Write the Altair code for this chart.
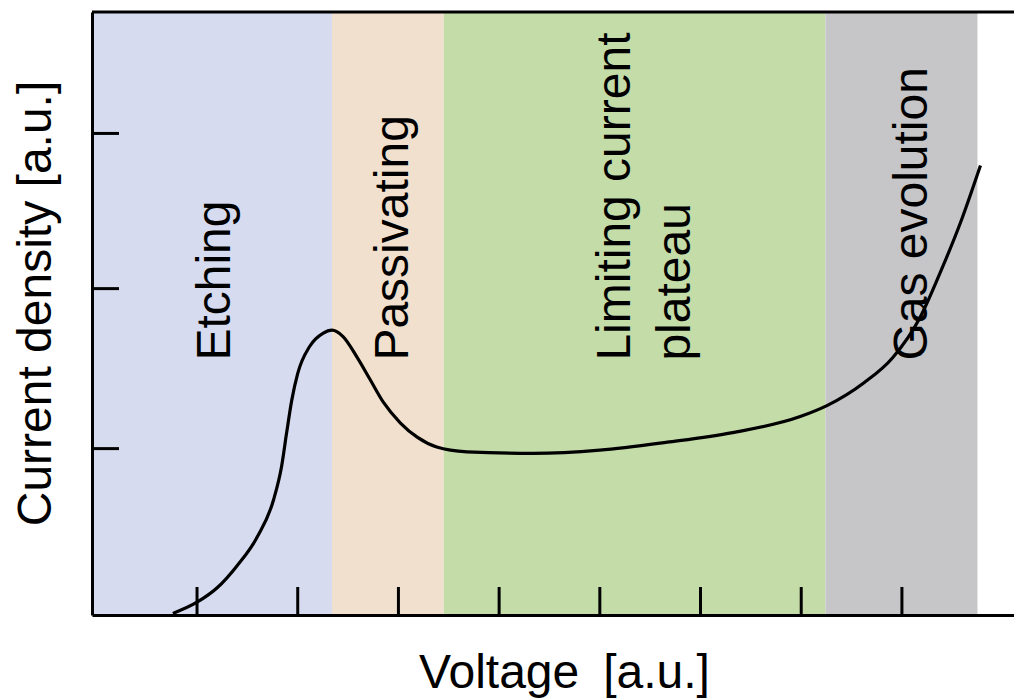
import altair as alt
import pandas as pd

# ---- data (arbitrary units) ----
voltage = [0.76, 1.00, 1.20, 1.40, 1.60, 1.76, 1.84, 1.89, 1.94, 2.00, 2.12, 2.25, 2.34,
           2.45, 2.59, 2.72, 2.85, 3.02, 3.19, 3.38, 3.68, 4.34, 5.00, 5.67, 6.32, 6.99,
           7.26, 7.62, 7.91, 8.18, 8.38, 8.58, 8.78]
current = [0.01, 0.08, 0.17, 0.31, 0.49, 0.72, 0.93, 1.14, 1.34, 1.51, 1.68, 1.76, 1.78,
           1.74, 1.61, 1.47, 1.33, 1.20, 1.11, 1.05, 1.02, 1.01, 1.03, 1.08, 1.14, 1.24,
           1.31, 1.45, 1.61, 1.86, 2.14, 2.45, 2.81]

region_names = ["Etching", "Passivating", "Limiting current plateau", "Gas evolution"]
region_start = [-0.043, 2.34, 3.45, 7.24]
region_end = [2.34, 3.45, 7.24, 8.75]
region_colors = ["#D6DBEF", "#F1E0CD", "#C4DCA8", "#C6C5C7"]

label_text = ["Etching", "Passivating", "Limiting current\nplateau", "Gas evolution"]
label_x = [1.33, 3.10, 5.30, 8.25]
label_y = [1.59, 1.59, 1.59, 1.59]

x_ticks = [1, 2, 3, 4, 5, 6, 7, 8]
y_ticks = [1.04, 2.04, 3.01]

x_title = "Voltage\u2002[a.u.]"
y_title = "Current density [a.u.]"

# ---- tables ----
curve = pd.DataFrame({"v": voltage, "c": current})
regions = pd.DataFrame({"name": region_names, "start": region_start, "end": region_end})
labels = pd.DataFrame({"text": label_text, "lx": label_x, "ly": label_y})
xt = pd.DataFrame({"t": x_ticks})
yt = pd.DataFrame({"t": y_ticks})

W, H = 922, 603
FONT = "Liberation Sans"

xs = alt.Scale(domain=[-0.043, 9.113], nice=False, zero=False)
ys = alt.Scale(domain=[0, 3.769], nice=False, zero=False)

x_axis = alt.Axis(labels=False, ticks=False, grid=False, titleX=472, titleY=72,
                  titleAngle=0, titleAlign="center", titleBaseline="alphabetic",
                  domainColor="black", domainWidth=3, zindex=2)
y_axis = alt.Axis(labels=False, ticks=False, grid=False, titleX=-42, titleY=291,
                  titleAngle=270, titleAlign="center", titleBaseline="alphabetic",
                  domainColor="black", domainWidth=3, zindex=2)


def X(field):
    return alt.X(field, scale=xs, axis=x_axis, title=x_title)


def Y(field):
    return alt.Y(field, scale=ys, axis=y_axis, title=y_title)


rects = alt.Chart(regions).mark_rect().encode(
    x=X("start:Q"),
    x2="end:Q",
    y=alt.value(0),
    y2=alt.value(H),
    color=alt.Color("name:N", scale=alt.Scale(domain=region_names, range=region_colors),
                    legend=None),
)

line = alt.Chart(curve).mark_line(color="black", strokeWidth=3.2, interpolate="monotone").encode(
    x=X("v:Q"),
    y=Y("c:Q"),
)

texts = alt.Chart(labels).mark_text(
    angle=270, align="left", baseline="alphabetic", font=FONT, fontSize=48,
    lineBreak="\n", lineHeight=60, color="black"
).encode(
    x=X("lx:Q"),
    y=Y("ly:Q"),
    text="text:N",
)

xticks = alt.Chart(xt).mark_rule(color="black", strokeWidth=3).encode(
    x=X("t:Q"),
    y=alt.value(H),
    y2=alt.value(H - 28),
)

yticks = alt.Chart(yt).mark_rule(color="black", strokeWidth=3).encode(
    y=Y("t:Q"),
    x=alt.value(0),
    x2=alt.value(27),
)

top = alt.Chart(pd.DataFrame({"a": [0]})).mark_rule(color="black", strokeWidth=3).encode(
    x=alt.value(0), x2=alt.value(W + 10), y=alt.value(0)
)

chart = alt.layer(rects, line, texts, xticks, yticks, top).properties(
    width=W, height=H,
    autosize=alt.AutoSizeParams(type="none"),
    padding={"left": 84, "top": 4, "right": 0, "bottom": 84},
).configure_view(strokeWidth=0).configure_axis(
    domainColor="black", domainWidth=3,
    titleFont=FONT, titleFontSize=48, titleFontWeight="normal", titleColor="black",
)

chart.save("out.html", embed_options={"renderer": "svg", "actions": False})
